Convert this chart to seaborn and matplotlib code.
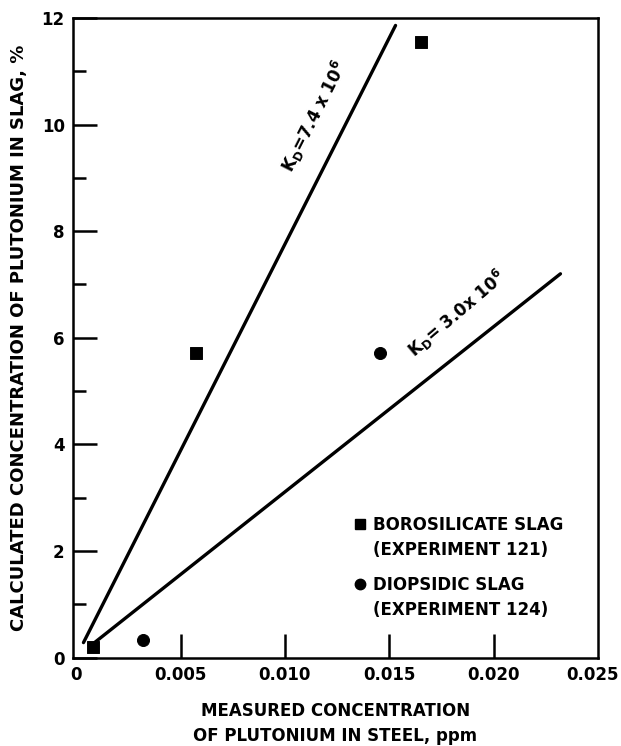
import matplotlib
matplotlib.use("Agg")
import matplotlib.pyplot as plt
import matplotlib.transforms as mtransforms
import seaborn as sns
import pandas as pd
from matplotlib.lines import Line2D
from matplotlib.ticker import MultipleLocator

# measured Pu in steel (ppm) vs calculated Pu in slag (%)
boro_x = [0.0008, 0.00575, 0.01654]
boro_y = [0.19, 5.72, 11.54]
diop_x = [0.0032, 0.01457]
diop_y = [0.32, 5.72]

# distribution-coefficient lines (end points)
kd74_x = [0.00035, 0.0153]
kd74_y = [0.28, 11.86]
kd30_x = [0.00075, 0.0232]
kd30_y = [0.24, 7.2]

x_ticks = [0, 0.005, 0.010, 0.015, 0.020, 0.025]
x_labels = ["0", "0.005", "0.010", "0.015", "0.020", "0.025"]
y_ticks = [0, 2, 4, 6, 8, 10, 12]

sns.set_theme(style="ticks")
plt.rcParams["font.family"] = ["DejaVu Sans"]
plt.rcParams["font.weight"] = "bold"
for key in ["text.color", "axes.labelcolor", "xtick.color", "ytick.color",
            "axes.edgecolor"]:
    plt.rcParams[key] = "black"
FS = 12

fig, ax = plt.subplots(figsize=(6.21, 7.46), dpi=100)
fig.subplots_adjust(left=0.1176, right=0.963, top=0.9759, bottom=0.1186)

boro = pd.DataFrame({"x": boro_x, "y": boro_y})
diop = pd.DataFrame({"x": diop_x, "y": diop_y})
line1 = pd.DataFrame({"x": kd74_x, "y": kd74_y})
line2 = pd.DataFrame({"x": kd30_x, "y": kd30_y})

sns.lineplot(data=line1, x="x", y="y", color="black", lw=2.4, ax=ax)
sns.lineplot(data=line2, x="x", y="y", color="black", lw=2.4, ax=ax)
sns.scatterplot(data=boro, x="x", y="y", marker="s", s=70, color="black",
                edgecolor="black", ax=ax, zorder=5)
sns.scatterplot(data=diop, x="x", y="y", marker="o", s=75, color="black",
                edgecolor="black", ax=ax, zorder=5)

ax.text(0.0114, 10.15, r"$\mathbf{K_D}$=7.4 x 10$^{\mathbf{6}}$", rotation=63,
        fontsize=FS, fontweight="bold", ha="center", va="center")
ax.text(0.01825, 6.45, r"$\mathbf{K_D}$= 3.0x 10$^{\mathbf{6}}$", rotation=40.5,
        fontsize=FS, fontweight="bold", ha="center", va="center")

ax.set_xlim(-0.00015, 0.025)
ax.set_ylim(0, 12)
ax.set_xticks(x_ticks)
ax.set_xticklabels(x_labels)
ax.set_yticks(y_ticks)
ax.yaxis.set_minor_locator(MultipleLocator(1))

ax.tick_params(axis="both", which="major", direction="in", length=17, width=1.8,
               labelsize=FS, pad=6, top=False, right=False)
ax.tick_params(axis="y", which="minor", direction="in", length=9, width=1.8,
               right=False)
for s in ax.spines.values():
    s.set_linewidth(1.8)
    s.set_visible(True)

xt = ax.xaxis.get_major_ticks()
xt[0].tick1line.set_visible(False)
xt[-1].tick1line.set_visible(False)
for lab in ax.get_xticklabels() + ax.get_yticklabels():
    lab.set_fontweight("bold")
last = ax.get_xticklabels()[-1]
last.set_transform(last.get_transform() +
                   mtransforms.ScaledTranslation(-6 / 100, 0, fig.dpi_scale_trans))

ax.set_xlabel("MEASURED CONCENTRATION\nOF PLUTONIUM IN STEEL, ppm",
              fontsize=FS, fontweight="bold", labelpad=13, linespacing=1.5)
ax.set_ylabel("CALCULATED CONCENTRATION OF PLUTONIUM IN SLAG, %",
              fontsize=13, fontweight="bold", labelpad=10)

blank = Line2D([], [], linestyle="none", marker="none")
sq = Line2D([], [], linestyle="none", marker="s", markersize=7, color="black")
ci = Line2D([], [], linestyle="none", marker="o", markersize=7.5, color="black")

leg_kw = dict(loc="upper left", frameon=False, borderpad=0, borderaxespad=0,
              handlelength=0.8, handletextpad=0.4, labelspacing=0.45,
              prop={"size": FS, "weight": "bold"})
leg1 = ax.legend([sq, blank], ["BOROSILICATE SLAG", "(EXPERIMENT 121)"],
                 bbox_to_anchor=(0.533, 0.222), **leg_kw)
ax.add_artist(leg1)
ax.legend([ci, blank], ["DIOPSIDIC SLAG", "(EXPERIMENT 124)"],
          bbox_to_anchor=(0.533, 0.128), **leg_kw)

fig.savefig("out.png", dpi=100)
